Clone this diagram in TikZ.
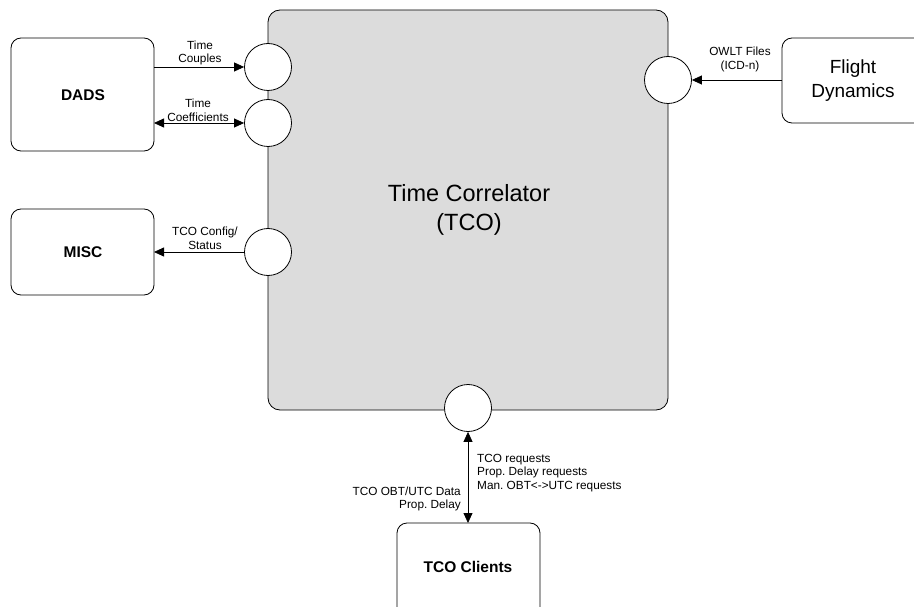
\documentclass[tikz,border=0pt]{standalone}
\usepackage{fontspec}
\setmainfont{Liberation Sans}
\usetikzlibrary{arrows.meta}
\frenchspacing
\begin{document}
\begin{tikzpicture}[x=1pt,y=-1pt,
  box/.style={draw,line width=0.8pt,rounded corners=10pt,fill=white},
  port/.style={draw,line width=0.8pt,circle,fill=white,minimum size=47pt,inner sep=0pt},
  flow/.style={line width=0.8pt,-{Triangle[length=10pt,width=9pt]}},
  bflow/.style={line width=0.8pt,{Triangle[length=10pt,width=9pt]}-{Triangle[length=10pt,width=9pt]}},
  lbl/.style={font=\fontsize{11.8}{13.8}\selectfont,align=center,inner sep=0pt},
  bold/.style={font=\fontsize{15.5}{18}\selectfont\bfseries}]
\useasboundingbox (0,0) rectangle (914,607);
\clip (0,0) rectangle (914,607);

% central Time Correlator block
\draw[line width=0.8pt,rounded corners=12pt,fill={rgb,255:red,220;green,220;blue,220}] (268,10) rectangle (668,410);
\node[font=\fontsize{23.5}{29}\selectfont,align=center] (tco) at (469,210) {Time Correlator\\(TCO)};

% external blocks
\draw[box] (11,38) rectangle (154,151);
\node[bold] (dads) at (83,95) {DADS};
\coordinate (dadsA) at (154,67);
\coordinate (dadsB) at (154,123);

\draw[box] (11,209) rectangle (154,295);
\node[bold] (misc) at (83,252) {MISC};
\coordinate (miscR) at (154,252);

\draw[box] (782,38) rectangle (930,123);
\node[font=\fontsize{19}{24}\selectfont,align=center] (fd) at (853,80.5) {Flight\\Dynamics};
\coordinate (fdL) at (782,80);

\draw[box] (397,523) rectangle (540,640);
\node[bold] (cli) at (468,567) {TCO Clients};
\coordinate (cliT) at (468,523);

% interface ports
\node[port] (p1) at (268,67) {};
\node[port] (p2) at (268,123) {};
\node[port] (p3) at (268,252) {};
\node[port] (p4) at (668,80) {};
\node[port] (p5) at (468,408) {};

% data flows
\draw[flow] (dadsA) -- (p1.west);
\draw[bflow] (dadsB) -- (p2.west);
\draw[flow] (p3.west) -- (miscR);
\draw[flow] (fdL) -- (p4.east);
\draw[bflow] (p5.south) -- (cliT);

% flow labels
\node[lbl] (l1) at (200,53) {Time\\Couples};
\node[lbl] (l2) at (198,110) {Time\\Coefficients};
\node[lbl] (l3) at (205,238.5) {TCO Config/\\Status};
\node[lbl] (l4) at (740,59.5) {OWLT Files\\(ICD-n)};
\node[lbl,align=right,anchor=east] (l5) at (461,499) {TCO OBT/UTC Data\\Prop. Delay};
\node[lbl,align=left,anchor=west] (l6) at (477,473) {TCO requests\\Prop. Delay requests\\Man. OBT<->UTC requests};
\end{tikzpicture}
\end{document}
